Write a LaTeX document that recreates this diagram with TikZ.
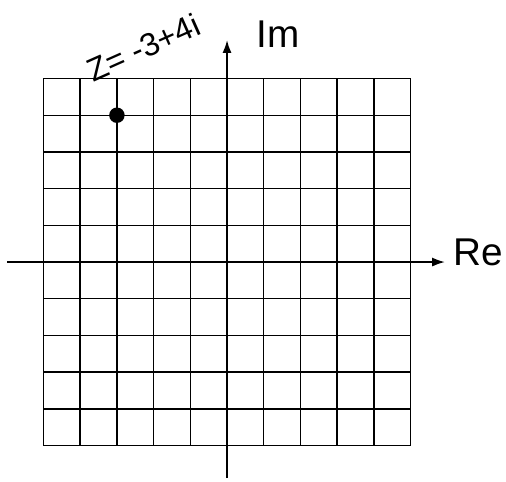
\documentclass[tikz,border=0pt]{standalone}
\usepackage{fontspec}
\setmainfont{Liberation Sans}
\usepackage{tikz}
\usetikzlibrary{arrows.meta, positioning, calc}

\begin{document}
\begin{tikzpicture}[>={Latex[length=10pt,width=7pt]},
    gridline/.style={line width=1.1pt, black},
    axis/.style={->, line width=1.5pt, black},
    axislabel/.style={font=\fontsize{30}{30}\selectfont, inner sep=0pt}]
  \useasboundingbox (-6.185,-5.967) rectangle (7.60,7.139);

  % grid
  \draw[gridline] (-5,-5) grid (5,5);

  % axes
  \coordinate (west) at (-5.99,0);
  \coordinate (east) at (5.94,0);
  \coordinate (south) at (0,-5.89);
  \coordinate (north) at (0,6.05);
  \draw[axis] (west) -- (east);
  \draw[axis] (south) -- (north);

  \node[axislabel] (re) at (6.84,0.27) {Re};
  \node[axislabel] (im) at (1.39,6.21) {Im};

  % the point z
  \node[circle, fill=black, inner sep=0pt, minimum size=12pt] (z) at (-3,4) {};
  \node[font=\fontsize{25}{25}\selectfont, rotate=24, inner sep=0pt]
    (zlabel) at (-2.28,5.85) {Z= -3+4i};
\end{tikzpicture}
\end{document}
